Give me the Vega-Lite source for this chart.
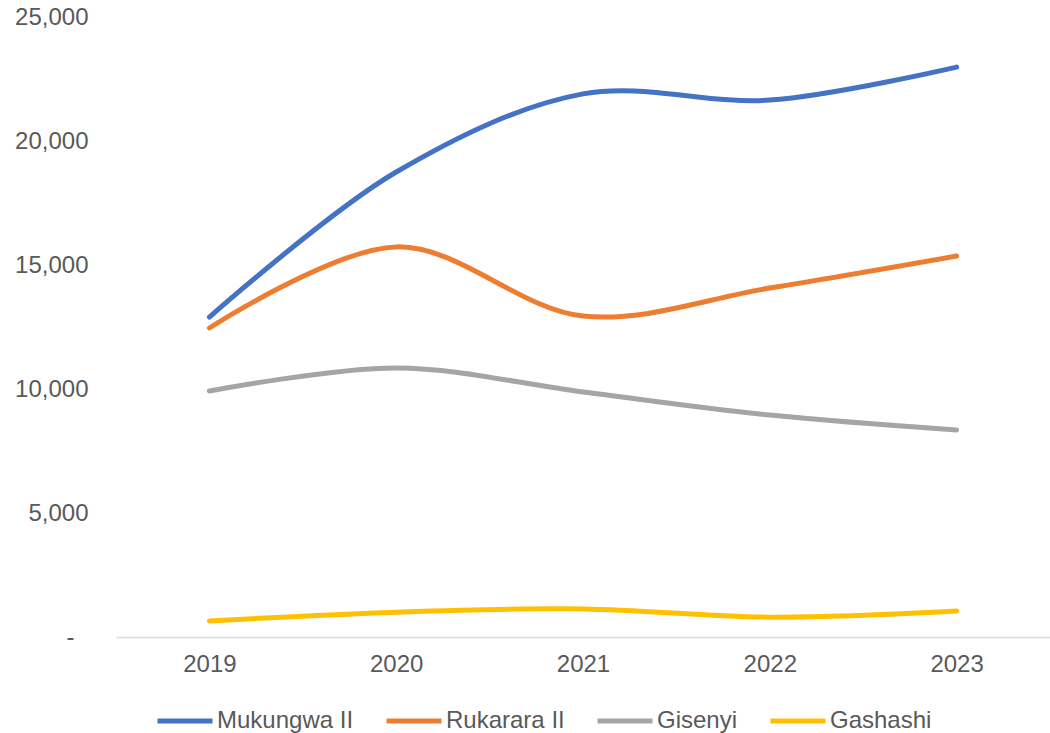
{
  "$schema": "https://vega.github.io/schema/vega-lite/v6.json",
  "width": 934,
  "height": 620,
  "autosize": {"type": "none"},
  "padding": {"left": 116, "top": 17, "right": 0, "bottom": 96},
  "background": "white",
  "config": {
    "view": {"stroke": null},
    "font": "Liberation Sans"
  },
  "data": {
    "values": [
      {"year": "2019", "plant": "Mukungwa II", "value": 12900},
      {"year": "2020", "plant": "Mukungwa II", "value": 18750},
      {"year": "2021", "plant": "Mukungwa II", "value": 21900},
      {"year": "2022", "plant": "Mukungwa II", "value": 21650},
      {"year": "2023", "plant": "Mukungwa II", "value": 22980},
      {"year": "2019", "plant": "Rukarara II", "value": 12460},
      {"year": "2020", "plant": "Rukarara II", "value": 15730},
      {"year": "2021", "plant": "Rukarara II", "value": 12940},
      {"year": "2022", "plant": "Rukarara II", "value": 14070},
      {"year": "2023", "plant": "Rukarara II", "value": 15360},
      {"year": "2019", "plant": "Gisenyi", "value": 9920},
      {"year": "2020", "plant": "Gisenyi", "value": 10850},
      {"year": "2021", "plant": "Gisenyi", "value": 9880},
      {"year": "2022", "plant": "Gisenyi", "value": 8950},
      {"year": "2023", "plant": "Gisenyi", "value": 8350},
      {"year": "2019", "plant": "Gashashi", "value": 650},
      {"year": "2020", "plant": "Gashashi", "value": 1000},
      {"year": "2021", "plant": "Gashashi", "value": 1130},
      {"year": "2022", "plant": "Gashashi", "value": 800},
      {"year": "2023", "plant": "Gashashi", "value": 1050}
    ]
  },
  "mark": {"type": "line", "strokeWidth": 5, "strokeCap": "round", "interpolate": "catmull-rom"},
  "encoding": {
    "x": {
      "field": "year", "type": "ordinal",
      "scale": {"type": "point", "padding": 0.5},
      "axis": {
        "title": null, "labelAngle": 0, "ticks": false, "grid": false,
        "domainColor": "#d9d9d9", "domainWidth": 1.5,
        "labelFont": "Liberation Sans", "labelFontSize": 24, "labelColor": "#595959",
        "labelPadding": 15
      }
    },
    "y": {
      "field": "value", "type": "quantitative",
      "scale": {"domain": [0, 25000], "nice": false},
      "axis": {
        "title": null, "ticks": false, "domain": false, "grid": false,
        "values": [0, 5000, 10000, 15000, 20000, 25000],
        "labelExpr": "datum.value == 0 ? '-' : format(datum.value, ',')",
        "labelFont": "Liberation Sans", "labelFontSize": 24, "labelColor": "#595959",
        "labelPadding": {"condition": {"test": "datum.value == 0", "value": 42}, "value": 28}
      }
    },
    "color": {
      "field": "plant", "type": "nominal",
      "scale": {
        "domain": ["Mukungwa II", "Rukarara II", "Gisenyi", "Gashashi"],
        "range": ["#4472C4", "#ED7D31", "#A5A5A5", "#FFC000"]
      },
      "legend": {
        "title": null, "orient": "none", "direction": "horizontal",
        "legendX": 39, "legendY": 674,
        "symbolType": "stroke", "symbolSize": 3025, "symbolStrokeWidth": 5,
        "labelFont": "Liberation Sans", "labelFontSize": 24, "labelColor": "#595959",
        "labelOffset": 2, "columnPadding": 22
      }
    }
  }
}
